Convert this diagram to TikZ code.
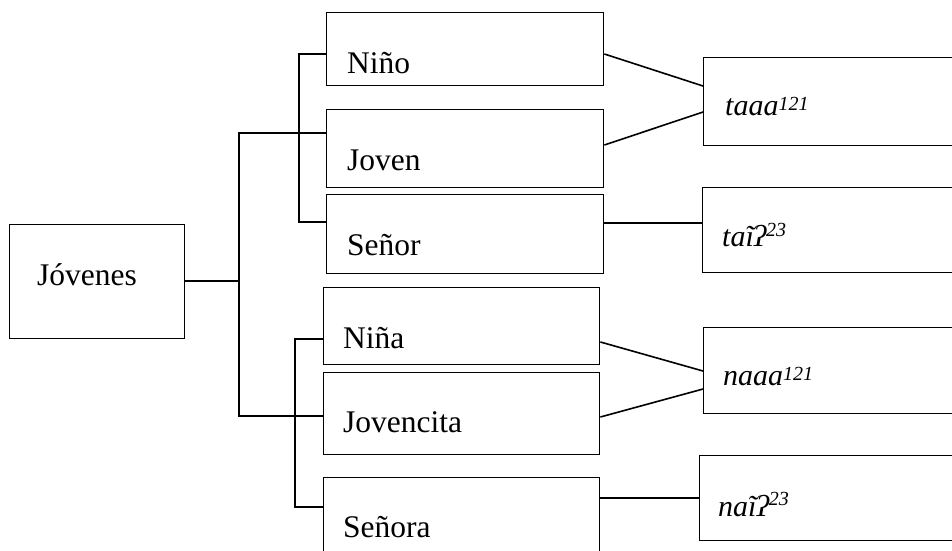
\documentclass[tikz,border=0pt]{standalone}
\usepackage{fontspec}
\setmainfont{Liberation Serif}
% superscript tone numbers: size and lift
\newcommand{\tone}[2]{\raisebox{#1pt}{\fontsize{20}{20}\selectfont #2}}
\begin{document}
\begin{tikzpicture}[x=1pt,y=-1pt,
  box/.style={draw, line width=1.4pt, rectangle, inner sep=0pt, anchor=north west},
  lbl/.style={anchor=base west, inner sep=0pt, font=\fontsize{31.5}{36}\selectfont},
  ilbl/.style={anchor=base west, inner sep=0pt, font=\fontsize{30}{34}\selectfont\itshape},
  link/.style={line width=1.6pt}]
\useasboundingbox (0,0) rectangle (952,550);
\clip (0,0) rectangle (952,550);

% root
\node[box, minimum width=175pt, minimum height=114pt] (jov) at (9,224) {};
\node[lbl] (tjov) at (37,285) {Jóvenes};

% masculine group
\node[box, minimum width=277pt, minimum height=73pt] (nino)  at (326,12)  {};
\node[box, minimum width=277pt, minimum height=78pt] (joven) at (326,109) {};
\node[box, minimum width=277pt, minimum height=79pt] (senor) at (326,194) {};
\node[lbl] (tnino)  at (347,73)  {Niño};
\node[lbl] (tjoven) at (347,170) {Joven};
\node[lbl] (tsenor) at (347,255) {Señor};

% feminine group
\node[box, minimum width=276pt, minimum height=77pt]  (nina)   at (323,287) {};
\node[box, minimum width=276pt, minimum height=82pt]  (jovcta) at (323,372) {};
\node[box, minimum width=276pt, minimum height=100pt] (senora) at (323,477) {};
\node[lbl] (tnina)   at (343,348) {Niña};
\node[lbl] (tjovcta) at (343,432) {Jovencita};
\node[lbl] (tsenora) at (343,537) {Señora};

% forms
\node[box, minimum width=280pt, minimum height=88pt] (taaa) at (703,57)  {};
\node[box, minimum width=280pt, minimum height=85pt] (tai)  at (702,187) {};
\node[box, minimum width=280pt, minimum height=86pt] (naaa) at (703,327) {};
\node[box, minimum width=280pt, minimum height=85pt] (nai)  at (699,455) {};
\node[ilbl] (ttaaa) at (725,115) {taaa\tone{5}{121}};
\node[ilbl] (ttai)  at (722,246) {taĩʔ\tone{10}{23}};
\node[ilbl] (tnaaa) at (723,385) {naaa\tone{5}{121}};
\node[ilbl] (tnai)  at (718,516) {naĩʔ\tone{11}{23}};

% bracket connectors
\coordinate (trunk) at (239,281);
\draw[link] (jov.east |- trunk) -- (trunk);
\draw[link] (joven.west |- 0,133) -- (trunk |- 0,133) -- (trunk |- 0,416) -- (jovcta.west |- 0,416);
\draw[link] (nino.west |- 0,54) -- (299,54) -- (299,222) -- (senor.west |- 0,222);
\draw[link] (nina.west |- 0,339) -- (295,339) -- (295,507) -- (senora.west |- 0,507);

% links to forms
\draw[link] (nino.east |- 0,54) -- (taaa.west |- 0,86);
\draw[link] (joven.east |- 0,145) -- (taaa.west |- 0,112);
\draw[link] (senor.east |- 0,223) -- (tai.west |- 0,223);
\draw[link] (nina.east |- 0,342) -- (naaa.west |- 0,371);
\draw[link] (jovcta.east |- 0,417) -- (naaa.west |- 0,389);
\draw[link] (senora.east |- 0,498) -- (nai.west |- 0,498);
\end{tikzpicture}
\end{document}
